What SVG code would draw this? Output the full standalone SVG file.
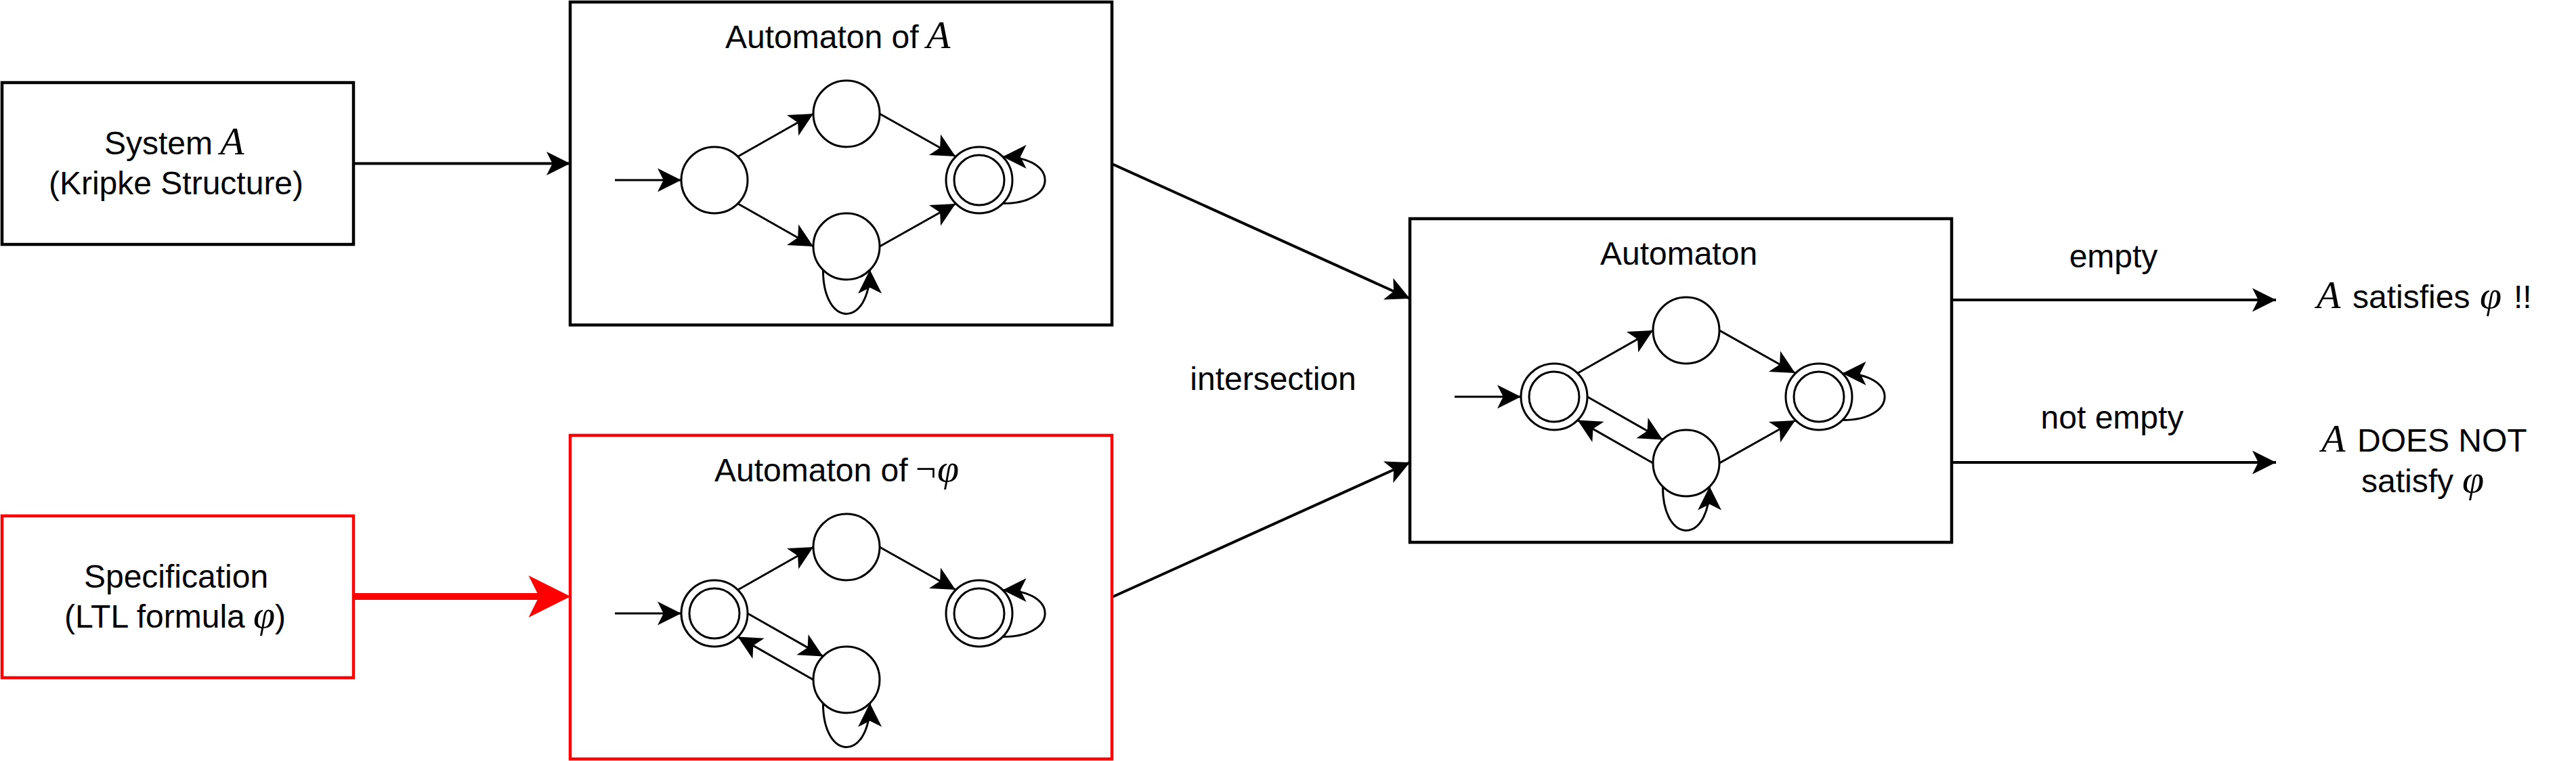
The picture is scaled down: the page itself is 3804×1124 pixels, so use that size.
<svg xmlns="http://www.w3.org/2000/svg" width="3804" height="1124" viewBox="0 0 3804 1124">
<style>
.box{fill:#fff;stroke:#000;stroke-width:4.5}
.red{stroke:#FF0000}
.st{fill:#fff;stroke:#000;stroke-width:3}
.e{fill:none;stroke:#000;stroke-width:3;marker-end:url(#a)}
.c{fill:none;stroke:#000;stroke-width:4;marker-end:url(#a)}
text{font-family:"Liberation Sans",Arial,Helvetica,sans-serif;font-size:48px;fill:#000}
.m{font-family:"Liberation Serif","Times New Roman",serif;font-style:italic;font-size:58px}
.mu{font-family:"Liberation Serif","Times New Roman",serif;font-size:54px}
</style>
<defs>
<marker id="a" markerUnits="userSpaceOnUse" orient="auto" refX="35" refY="0" markerWidth="36" markerHeight="36" overflow="visible"><path d="M35,0 L0,17.5 L8.75,0 L0,-17.5 Z" fill="#000"/></marker>
<marker id="ar" markerUnits="userSpaceOnUse" orient="auto" refX="15.5" refY="0" markerWidth="62" markerHeight="62" overflow="visible"><path d="M62,0 L0,31 L15.5,0 L0,-31 Z" fill="#FF0000"/></marker>
</defs>

<g id="connectors">
<path class="c" d="M522,241.5 L842,241.5"/>
<path d="M522,881 L796,881" fill="none" stroke="#FF0000" stroke-width="10" marker-end="url(#ar)"/>
<path class="c" d="M1642,242 L2082,441"/>
<path class="c" d="M1642,882 L2082,683"/>
<path class="c" d="M2882,443 L3361,443"/>
<path class="c" d="M2882,683 L3361,683"/>
<text x="3121" y="395" text-anchor="middle">empty</text>
<text x="3119" y="633" text-anchor="middle">not empty</text>
<text x="1880" y="576" text-anchor="middle">intersection</text>
</g>

<g id="system">
<rect class="box" x="3" y="122" width="519" height="239"/>
<text y="228"><tspan x="154">System</tspan><tspan class="m" x="325">A</tspan></text>
<text x="260" y="287" text-anchor="middle">(Kripke Structure)</text>
</g>

<g id="specification">
<rect class="box red" x="3" y="762" width="519" height="239"/>
<text x="260" y="868" text-anchor="middle">Specification</text>
<text y="927"><tspan x="95">(LTL formula</tspan><tspan class="m" x="374">φ</tspan><tspan x="406">)</tspan></text>
</g>

<g id="automaton-A">
<rect class="box" x="842" y="3" width="800" height="477"/>
<text y="71"><tspan x="1071">Automaton of</tspan><tspan class="m" x="1368">A</tspan></text>
<circle class="st" cx="1055" cy="266" r="49"/>
<circle class="st" cx="1250" cy="168" r="49"/>
<circle class="st" cx="1250" cy="364" r="49"/>
<circle class="st" cx="1446" cy="266" r="49"/>
<circle class="st" cx="1446" cy="266" r="37"/>
<path class="e" d="M908,266 L1006,266"/>
<path class="e" d="M1090,231 L1201,168"/>
<path class="e" d="M1090,301 L1201,364"/>
<path class="e" d="M1299,168 L1411,231"/>
<path class="e" d="M1299,364 L1411,301"/>
<path class="e" d="M1480.6,300.6 C1564,300.6 1564,231.4 1480.6,231.4"/>
<path class="e" d="M1215.4,398.6 C1215.4,485 1284.6,485 1284.6,398.6"/>
</g>

<g id="automaton-not-phi" transform="translate(0,640)">
<rect class="box red" x="842" y="3" width="800" height="478"/>
<text y="71"><tspan x="1055">Automaton of</tspan><tspan class="mu" x="1352">¬</tspan><tspan class="m" x="1384">φ</tspan></text>
<circle class="st" cx="1055" cy="266" r="49"/>
<circle class="st" cx="1055" cy="266" r="37"/>
<circle class="st" cx="1250" cy="168" r="49"/>
<circle class="st" cx="1250" cy="364" r="49"/>
<circle class="st" cx="1446" cy="266" r="49"/>
<circle class="st" cx="1446" cy="266" r="37"/>
<path class="e" d="M908,266 L1006,266"/>
<path class="e" d="M1090,231 L1201,168"/>
<path class="e" d="M1104,266 L1215.4,329.4"/>
<path class="e" d="M1201,364 L1089.6,300.6"/>
<path class="e" d="M1299,168 L1411,231"/>
<path class="e" d="M1480.6,300.6 C1564,300.6 1564,231.4 1480.6,231.4"/>
<path class="e" d="M1215.4,398.6 C1215.4,485 1284.6,485 1284.6,398.6"/>
</g>

<g id="automaton" transform="translate(1240,320)">
<rect class="box" x="842" y="3" width="800" height="478"/>
<text x="1239" y="71" text-anchor="middle">Automaton</text>
<circle class="st" cx="1055" cy="266" r="49"/>
<circle class="st" cx="1055" cy="266" r="37"/>
<circle class="st" cx="1250" cy="168" r="49"/>
<circle class="st" cx="1250" cy="364" r="49"/>
<circle class="st" cx="1446" cy="266" r="49"/>
<circle class="st" cx="1446" cy="266" r="37"/>
<path class="e" d="M908,266 L1006,266"/>
<path class="e" d="M1090,231 L1201,168"/>
<path class="e" d="M1104,266 L1215.4,329.4"/>
<path class="e" d="M1201,364 L1089.6,300.6"/>
<path class="e" d="M1299,168 L1411,231"/>
<path class="e" d="M1299,364 L1411,301"/>
<path class="e" d="M1480.6,300.6 C1564,300.6 1564,231.4 1480.6,231.4"/>
<path class="e" d="M1215.4,398.6 C1215.4,485 1284.6,485 1284.6,398.6"/>
</g>

<g id="result-satisfies">
<text y="455"><tspan class="m" x="3421">A</tspan><tspan x="3474">satisfies</tspan><tspan class="m" x="3662">φ</tspan><tspan x="3712">!!</tspan></text>
</g>

<g id="result-not-satisfies">
<text y="667"><tspan class="m" x="3428">A</tspan><tspan x="3481">DOES NOT</tspan></text>
<text y="727"><tspan x="3487">satisfy</tspan><tspan class="m" x="3636">φ</tspan></text>
</g>
</svg>
